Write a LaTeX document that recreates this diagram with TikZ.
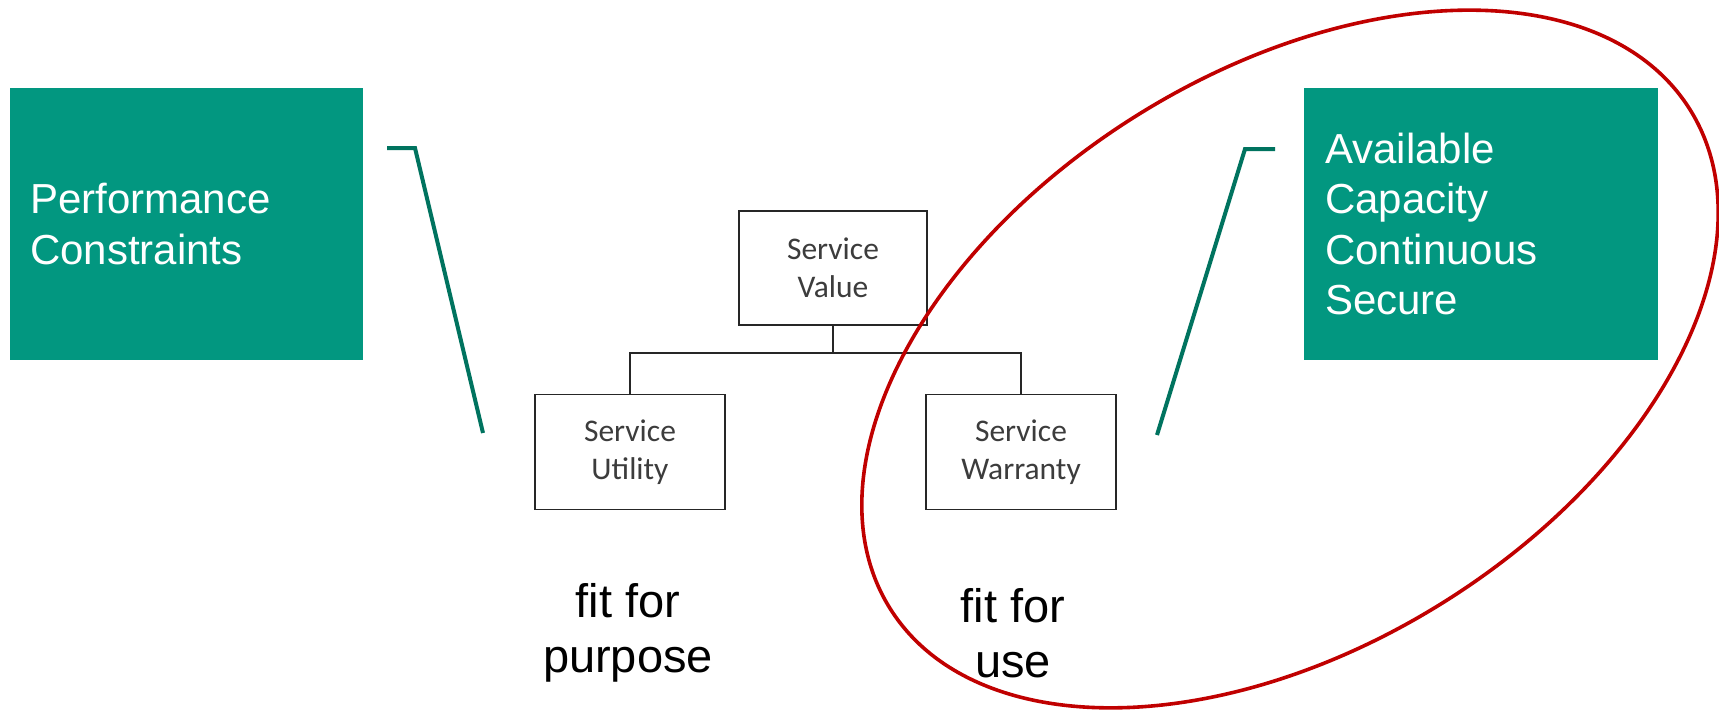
\documentclass[tikz,border=0pt]{standalone}
\usepackage{fontspec}
\setmainfont{Liberation Sans}
\newfontfamily\boxfont{Carlito}
\definecolor{tealfill}{HTML}{029780}
\definecolor{tealline}{HTML}{00735F}
\definecolor{ringred}{HTML}{C00000}
\definecolor{boxtext}{HTML}{3C3C3C}
\tikzset{
  greenbox/.style={fill=tealfill, draw=none, inner sep=0pt},
  greentext/.style={text=white, align=left, inner sep=0pt, anchor=west,
    font=\fontsize{42}{50.5}\selectfont},
  svcbox/.style={draw=black!85, line width=1.6pt, fill=white,
    minimum width=190pt, minimum height=115pt, align=center, inner sep=0pt,
    text=boxtext, font=\boxfont\fontsize{31.5}{38}\selectfont},
  tree/.style={draw=black!85, line width=1.5pt},
  bracket/.style={draw=tealline, line width=4pt, line join=miter},
  caption/.style={align=center, inner sep=0pt, text=black,
    font=\fontsize{47}{55}\selectfont},
  ring/.style={draw=ringred, line width=3.6pt}
}
\begin{document}
\begin{tikzpicture}[x=1pt,y=-1pt]
\useasboundingbox (0,0) rectangle (1719,712);

% green side panels
\path[greenbox] (10,88) rectangle (363,360);
\path[greenbox] (1304,88) rectangle (1658,360);
\node[greentext] (perf) at (30,224) {Performance\\Constraints};
\node[greentext] (warr) at (1325,224) {Available\\Capacity\\Continuous\\Secure};

% bracket strokes
\coordinate (lb1) at (387,148);
\coordinate (lb2) at (415,148);
\coordinate (lb3) at (483,433);
\draw[bracket] (lb1) -- (lb2) -- (lb3);
\coordinate (rb1) at (1275,149);
\coordinate (rb2) at (1245,149);
\coordinate (rb3) at (1157,435);
\draw[bracket] (rb1) -- (rb2) -- (rb3);

% value tree
\node[svcbox, minimum width=188pt, minimum height=114pt] (value) at (833,268) {Service\\Value};
\node[svcbox] (utility) at (630,452) {Service\\Utility};
\node[svcbox] (warranty) at (1021,452) {Service\\Warranty};
\coordinate (join) at (833,353);
\draw[tree] (value.south) -- (join);
\draw[tree] (join) -| (utility.north);
\draw[tree] (join) -| (warranty.north);

% captions
\node[caption] (purpose) at (628,633) {fit for\\purpose};
\node[caption] (use) at (1013,633) {fit for\\use};

% tilted red loop around the warranty side
\coordinate (ringc) at (1290,359);
\draw[ring, rotate around={31.9:(ringc)}] (ringc) ellipse [x radius=471.4pt, y radius=287.7pt];
\end{tikzpicture}
\end{document}
